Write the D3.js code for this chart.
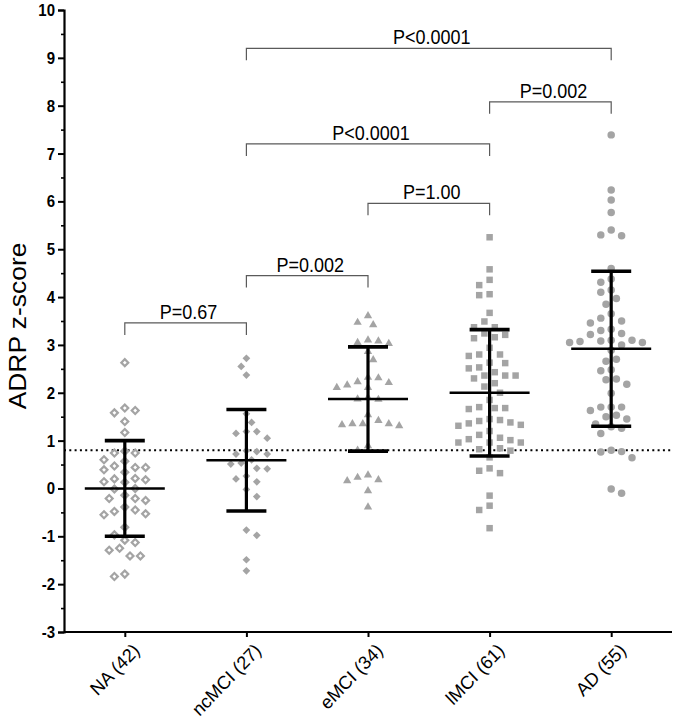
<!DOCTYPE html>
<html><head><meta charset="utf-8">
<script src="https://cdn.jsdelivr.net/npm/d3@7/dist/d3.min.js"></script>
<style>body{margin:0;background:#fff}svg{display:block}</style>
</head><body>
<svg id="c" width="675" height="721"></svg>
<script>
// ---------- data ----------
const categories = ["NA (42)", "ncMCI (27)", "eMCI (34)", "lMCI (61)", "AD (55)"];
const naValues = [2.63,1.68,1.63,1.58,1.40,1.17,0.78,0.74,0.74,0.60,0.57,0.47,0.44,0.44,0.39,0.34,0.21,0.20,0.18,0.14,0.13,0.00,-0.01,-0.14,-0.21,-0.21,-0.25,-0.39,-0.45,-0.48,-0.53,-0.55,-0.81,-0.97,-1.08,-1.13,-1.25,-1.29,-1.41,-1.41,-1.79,-1.84];
const ncmciValues = [2.72,2.55,2.37,1.56,1.38,1.19,1.19,1.15,1.05,0.79,0.77,0.72,0.72,0.60,0.53,0.51,0.42,0.41,0.26,0.20,0.14,-0.02,-0.17,-0.87,-0.98,-1.49,-1.72];
const emciValues = [3.61,3.47,3.42,3.10,3.08,3.05,3.03,2.86,2.69,2.32,2.31,2.23,2.21,2.16,2.11,2.11,1.90,1.87,1.86,1.54,1.42,1.35,1.35,1.35,1.33,1.31,0.89,0.80,0.28,0.23,0.18,0.16,-0.05,-0.39];
const lmciValues = [5.25,4.58,4.36,4.25,4.06,4.04,3.67,3.49,3.37,3.37,3.24,3.21,3.16,3.14,2.94,2.80,2.80,2.77,2.63,2.62,2.53,2.51,2.43,2.36,2.36,2.36,2.30,2.20,2.13,2.00,1.85,1.70,1.68,1.68,1.66,1.45,1.43,1.41,1.38,1.36,1.33,1.31,1.20,1.12,1.06,1.03,1.01,0.96,0.96,0.96,0.84,0.82,0.79,0.65,0.42,0.37,0.32,-0.15,-0.36,-0.45,-0.83];
const adValues = [7.39,6.24,6.03,5.77,5.40,5.30,5.28,4.60,4.38,4.31,4.15,4.10,3.97,3.85,3.65,3.56,3.50,3.46,3.33,3.30,3.24,3.22,3.10,3.10,3.08,3.07,3.05,3.05,3.00,2.89,2.70,2.66,2.48,2.46,2.29,2.27,2.18,1.99,1.70,1.70,1.70,1.63,1.53,1.50,1.45,1.35,1.29,1.26,1.15,0.80,0.77,0.76,0.64,-0.01,-0.10];
const groupMeans = [0.00, 0.59, 1.87, 2.00, 2.92];
const groupSDs = [1.00, 1.06, 1.09, 1.32, 1.62];
const yMajorTicks = [-3,-2,-1,0,1,2,3,4,5,6,7,8,9,10];
const yMinorTicks = [-2.5,-1.5,-0.5,0.5,1.5,2.5,3.5,4.5,5.5,6.5,7.5,8.5,9.5];
const thresholdValue = 0.8;
const compFrom  = [0, 1, 2, 1, 3, 1];
const compTo    = [1, 2, 3, 3, 4, 4];
const compLevel = [3.46, 4.45, 5.96, 7.20, 8.08, 9.20];
const compLabel = ["P=0.67", "P=0.002", "P=1.00", "P<0.0001", "P=0.002", "P<0.0001"];
const yTitle = "ADRP z-score";

const groups = [naValues, ncmciValues, emciValues, lmciValues, adValues];

// ---------- layout ----------
const svg = d3.select("#c");
const FONT = "'Liberation Sans', Arial, Helvetica, sans-serif";
const x = d3.scalePoint().domain(categories).range([64, 672]).padding(0.5);
const y = d3.scaleLinear().domain([-3, 10]).range([632, 10]);
const grey = "#a4a4a4";

// beeswarm offsets computed from values
function swarm(vals) {
  const step = 5.2, D = 9.6;
  const placed = [];
  const order = vals.map((v, i) => i).sort((a, b) => vals[b] - vals[a]);
  const res = new Array(vals.length);
  order.forEach((i, n) => {
    const py = y(vals[i]);
    const sign = n % 2 === 0 ? 1 : -1;
    for (let k = 0; k < 40; k++) {
      const cands = k === 0 ? [0] : [sign * k * step, -sign * k * step];
      let found = null;
      for (const dx of cands) {
        if (placed.every(p => (p.dx - dx) ** 2 + (p.py - py) ** 2 >= D * D)) { found = dx; break; }
      }
      if (found !== null) { placed.push({dx: found, py}); res[i] = {dx: found, py}; break; }
    }
  });
  return res;
}

// threshold dotted line
svg.append("line")
  .attr("x1", 64).attr("x2", 672)
  .attr("y1", y(thresholdValue)).attr("y2", y(thresholdValue))
  .attr("stroke", "#000").attr("stroke-width", 2).attr("stroke-dasharray", "2,3.3");

// points
const symbols = [
  {type: d3.symbolSquare, size: 24, rot: 45, fill: "#fff", stroke: grey, sw: 2.2},
  {type: d3.symbolSquare, size: 30, rot: 45, fill: grey, stroke: "none", sw: 0},
  {type: d3.symbolTriangle, size: 30, rot: 0, fill: grey, stroke: "none", sw: 0},
  {type: d3.symbolSquare, size: 42, rot: 0, fill: grey, stroke: "none", sw: 0},
  {type: d3.symbolCircle, size: 44, rot: 0, fill: grey, stroke: "none", sw: 0}
];
groups.forEach((vals, gi) => {
  const cx = x(categories[gi]);
  const pos = swarm(vals);
  const s = symbols[gi];
  svg.append("g").selectAll("path").data(vals).join("path")
    .attr("d", d3.symbol().type(s.type).size(s.size))
    .attr("transform", (d, i) => `translate(${cx + pos[i].dx},${pos[i].py}) rotate(${s.rot})`)
    .attr("fill", s.fill).attr("stroke", s.stroke).attr("stroke-width", s.sw);
});

// mean +- SD bars
categories.forEach((c, gi) => {
  const cx = x(c), m = groupMeans[gi], sd = groupSDs[gi];
  const g = svg.append("g").attr("stroke", "#000");
  g.append("line").attr("x1", cx).attr("x2", cx).attr("y1", y(m - sd)).attr("y2", y(m + sd)).attr("stroke-width", 3.2);
  [m - sd, m + sd].forEach(v => g.append("line").attr("x1", cx - 20).attr("x2", cx + 20).attr("y1", y(v)).attr("y2", y(v)).attr("stroke-width", 3.6));
  g.append("line").attr("x1", cx - 40).attr("x2", cx + 40).attr("y1", y(m)).attr("y2", y(m)).attr("stroke-width", 2.4);
});

// comparison brackets
compLabel.forEach((lab, i) => {
  const x1 = x(categories[compFrom[i]]), x2 = x(categories[compTo[i]]), yy = y(compLevel[i]);
  svg.append("path")
    .attr("d", `M${x1},${yy + 12}V${yy}H${x2}V${yy + 12}`)
    .attr("fill", "none").attr("stroke", "#5a5a5a").attr("stroke-width", 1.2);
  svg.append("text").attr("transform", `translate(${(x1 + x2) / 2 + 3},${yy - 4}) scale(1,1.08)`)
    .attr("text-anchor", "middle").attr("font-family", FONT).attr("font-size", 18)
    .attr("fill", "#000").text(lab);
});

// y axis
const yAxis = svg.append("g").attr("transform", "translate(64,0)")
  .call(d3.axisLeft(y).tickValues(yMajorTicks).tickSize(6).tickPadding(3).tickFormat(d => String(d)));
yAxis.select(".domain").attr("stroke-width", 2.2);
yAxis.selectAll(".tick line").attr("stroke-width", 2);
yAxis.selectAll(".tick text").attr("font-family", FONT).attr("font-size", 15)
  .attr("font-weight", "bold").attr("fill", "#000").attr("transform", "scale(1,1.15)");
const yMinor = svg.append("g").attr("transform", "translate(64,0)")
  .call(d3.axisLeft(y).tickValues(yMinorTicks).tickSize(3).tickFormat(""));
yMinor.select(".domain").remove();
yMinor.selectAll(".tick line").attr("stroke-width", 1.6);

// x axis
const xAxis = svg.append("g").attr("transform", "translate(0,632)")
  .call(d3.axisBottom(x).tickSize(5).tickSizeOuter(0));
xAxis.select(".domain").attr("stroke-width", 2.2).attr("d", "M64,0H672");
xAxis.selectAll(".tick line").attr("stroke-width", 2);
xAxis.selectAll(".tick text")
  .attr("font-family", FONT).attr("font-size", 18).attr("fill", "#000")
  .attr("x", 0).attr("y", 0).attr("dy", "0.35em")
  .attr("text-anchor", "end")
  .attr("transform", "translate(11,15) scale(1,1.04) rotate(-45)");

// y title
svg.append("text")
  .attr("transform", "translate(26,326) rotate(-90) scale(1.1,1)")
  .attr("text-anchor", "middle").attr("font-family", FONT).attr("font-size", 24)
  .attr("fill", "#000").text(yTitle);
</script>
</body></html>
